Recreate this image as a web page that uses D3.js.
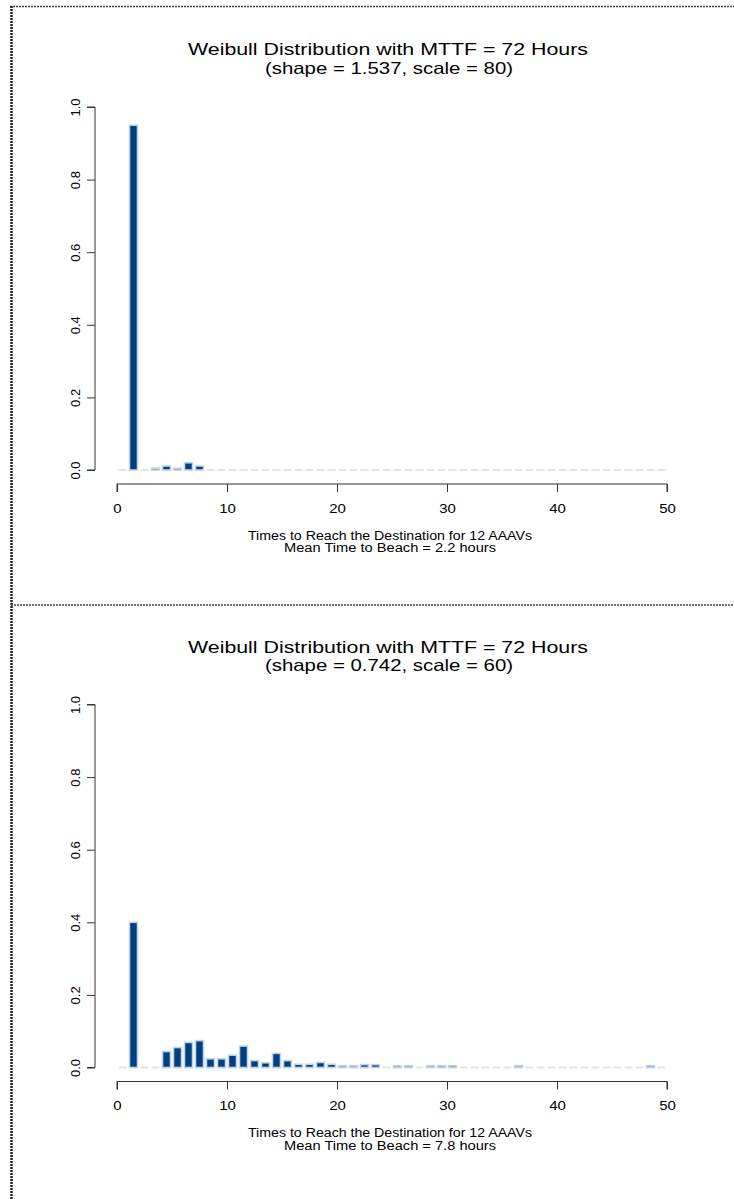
<!DOCTYPE html>
<html>
<head>
<meta charset="utf-8">
<script src="https://cdn.jsdelivr.net/npm/d3@7"></script>
<style>
  html, body { margin: 0; padding: 0; background: #fff; }
  svg { display: block; font-family: "Liberation Sans", Arial, Helvetica, sans-serif; }
</style>
</head>
<body>
<svg id="chart" width="734" height="1199"></svg>
<script>
// ---- data ----
const titleLine1 = "Weibull Distribution with MTTF = 72 Hours";
const topSubtitle = "(shape = 1.537, scale = 80)";
const bottomSubtitle = "(shape = 0.742, scale = 60)";
const xLabelLine1 = "Times to Reach the Destination for 12 AAAVs";
const topMeanLabel = "Mean Time to Beach = 2.2 hours";
const bottomMeanLabel = "Mean Time to Beach = 7.8 hours";

const xTicks = [0, 10, 20, 30, 40, 50];
const yTicks = [0, 0.2, 0.4, 0.6, 0.8, 1.0];
const yTickLabels = ["0.0", "0.2", "0.4", "0.6", "0.8", "1.0"];

// bin start (hours) and proportion of runs in that 1-hour bin
const topBinStart = [1, 3, 4, 5, 6, 7];
const topValues   = [0.95, 0.005, 0.011, 0.005, 0.02, 0.011];

const bottomBinStart = [1, 4, 5, 6, 7, 8, 9, 10, 11, 12, 13, 14, 15, 16, 17, 18, 19, 20, 21, 22, 23, 25, 26, 28, 29, 30, 36, 48];
const bottomValues   = [0.40, 0.044, 0.055, 0.069, 0.074, 0.024, 0.024, 0.034, 0.059, 0.019, 0.013, 0.039, 0.019, 0.009, 0.009, 0.014, 0.009, 0.005, 0.005, 0.008, 0.008, 0.005, 0.005, 0.005, 0.005, 0.005, 0.005, 0.005];

const barFill = "#003f80";
const barStroke = "#c3d3e6";
const zeroColor = "#e4e4e4";
const axisColor = "#333";
const hStretch = 1.2; // the reference's text is drawn slightly wide

const svg = d3.select("#chart");

function stretch(sel, k) {
  sel.each(function () {
    const w = this.getComputedTextLength();
    d3.select(this).attr("textLength", w * k).attr("lengthAdjust", "spacingAndGlyphs");
  });
}

// page frame (dotted lines)
svg.append("line").attr("x1", 10).attr("x2", 734).attr("y1", 6.5).attr("y2", 6.5)
  .attr("stroke", "#444").attr("stroke-width", 1.5).attr("stroke-dasharray", "2,1");
svg.append("line").attr("x1", 11.5).attr("x2", 11.5).attr("y1", 6).attr("y2", 1199)
  .attr("stroke", "#222").attr("stroke-width", 2.5).attr("stroke-dasharray", "2,1");
svg.append("line").attr("x1", 11).attr("x2", 734).attr("y1", 605).attr("y2", 605)
  .attr("stroke", "#444").attr("stroke-width", 1.5).attr("stroke-dasharray", "2,1");

function panel(offsetY, subtitle, meanLabel, binStart, values) {
  const g = svg.append("g").attr("transform", `translate(0,${offsetY})`);
  const x = d3.scaleLinear().domain([0, 50]).range([117, 667]);
  const y = d3.scaleLinear().domain([0, 1]).range([470, 107]);

  // title (one text, two lines)
  const t = g.append("text").attr("text-anchor", "middle")
    .attr("font-size", 16.5).attr("fill", "#000");
  t.append("tspan").attr("x", 388).attr("y", 55).text(titleLine1)
    .attr("textLength", 400).attr("lengthAdjust", "spacingAndGlyphs");
  t.append("tspan").attr("x", 389).attr("y", 73.5).text(subtitle)
    .attr("textLength", 248).attr("lengthAdjust", "spacingAndGlyphs");

  // zero baseline segments for every 1-hour bin
  const bins = d3.range(0, 50);
  g.append("g").selectAll("line").data(bins).join("line")
    .attr("x1", d => x(d) + 1.5).attr("x2", d => x(d + 1) - 1.5)
    .attr("y1", y(0)).attr("y2", y(0))
    .attr("stroke", zeroColor).attr("stroke-width", 2);

  // bars
  const data = binStart.map((b, i) => ({ b, v: values[i] }));
  g.append("g").selectAll("rect").data(data).join("rect")
    .attr("x", d => x(d.b) + 1.5)
    .attr("width", d => x(d.b + 1) - x(d.b) - 3)
    .attr("y", d => y(d.v))
    .attr("height", d => y(0) - y(d.v))
    .attr("fill", barFill)
    .attr("stroke", barStroke)
    .attr("stroke-width", 1.6);

  // x axis
  const xAxis = d3.axisBottom(x).tickValues(xTicks).tickSize(8).tickPadding(12)
    .tickFormat(d3.format("d"));
  const xg = g.append("g").attr("transform", "translate(0,484)").call(xAxis);
  xg.select(".domain").attr("stroke", axisColor).attr("d", `M${x(0)},8V0H${x(50)}V8`);
  xg.selectAll(".tick line").attr("stroke", axisColor);
  xg.selectAll("text").attr("font-size", 12.5).attr("fill", "#000")
    .attr("font-family", '"Liberation Sans", Arial, sans-serif');
  stretch(xg.selectAll("text"), hStretch);

  // y axis
  const yAxis = d3.axisLeft(y).tickValues(yTicks).tickSize(8)
    .tickFormat((d, i) => yTickLabels[i]);
  const yg = g.append("g").attr("transform", "translate(95,0)").call(yAxis);
  yg.select(".domain").attr("stroke", axisColor).attr("d", `M-8,${y(0)}H0V${y(1)}H-8`);
  yg.selectAll(".tick line").attr("stroke", axisColor);
  yg.selectAll("text")
    .attr("font-size", 13).attr("fill", "#000")
    .attr("font-family", '"Liberation Sans", Arial, sans-serif')
    .attr("x", null).attr("dy", null)
    .attr("text-anchor", "middle")
    .attr("transform", "translate(-15,0) rotate(-90)");

  // x axis label (one text, two lines)
  const xl = g.append("text").attr("text-anchor", "middle")
    .attr("font-size", 12).attr("fill", "#000");
  xl.append("tspan").attr("x", 390).attr("y", 539.5).text(xLabelLine1)
    .attr("textLength", 284).attr("lengthAdjust", "spacingAndGlyphs");
  xl.append("tspan").attr("x", 390).attr("y", 552).text(meanLabel)
    .attr("textLength", 212).attr("lengthAdjust", "spacingAndGlyphs");
}

panel(0, topSubtitle, topMeanLabel, topBinStart, topValues);
panel(597.5, bottomSubtitle, bottomMeanLabel, bottomBinStart, bottomValues);
</script>
</body>
</html>
